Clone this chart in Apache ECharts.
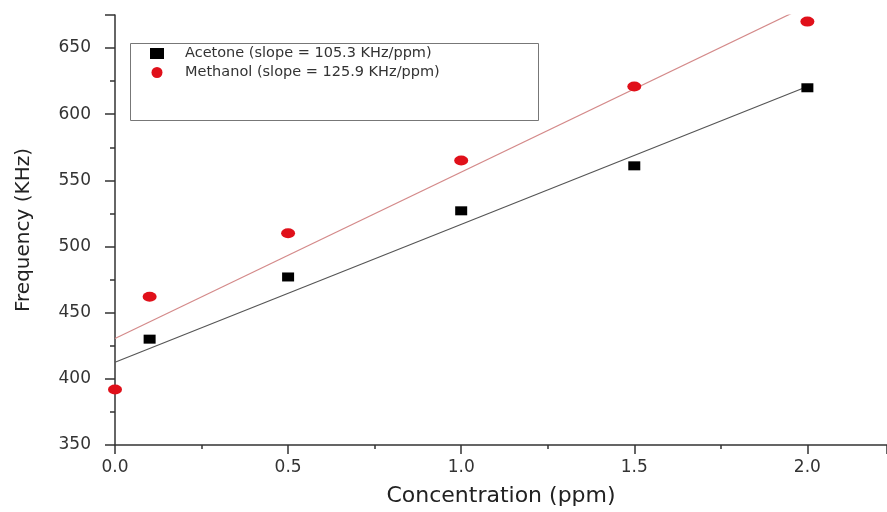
<!DOCTYPE html>
<html>
<head>
<meta charset="utf-8">
<script src="https://cdn.jsdelivr.net/npm/echarts@6/dist/echarts.min.js"></script>
<style>
  html, body { margin: 0; padding: 0; background: #fff; }
  #chart { width: 887px; height: 512px; }
</style>
</head>
<body>
<div id="chart"></div>
<script>
const acetoneX = [0.1, 0.5, 1.0, 1.5, 2.0];
const acetoneY = [430, 477, 527, 561, 620];
const methanolX = [0.0, 0.1, 0.5, 1.0, 1.5, 2.0];
const methanolY = [392, 462, 510, 565, 621, 670];

// 선형 피팅 선 끝점
const acetoneFitX = [0.0, 2.0];
const acetoneFitY = [412.5, 621];
const methanolFitX = [0.0, 2.0];
const methanolFitY = [430.5, 682];

const legendNames = ['Acetone (slope = 105.3 KHz/ppm)', 'Methanol (slope = 125.9 KHz/ppm)'];
const xTicks = [0, 0.5, 1.0, 1.5, 2.0];

const font = '"DejaVu Sans", Arial, sans-serif';

function pairs(xs, ys) {
  return xs.map((x, i) => [x, ys[i]]);
}

const chart = echarts.init(document.getElementById('chart'));

const option = {
  backgroundColor: '#fff',
  animation: false,
  grid: { left: 115, right: 0, top: 15, bottom: 66 },
  // 범례 테두리
  graphic: [{
    type: 'rect',
    left: 130,
    top: 43,
    shape: { width: 408, height: 77 },
    style: { fill: '#fff', stroke: '#777', lineWidth: 1 },
    z: 5
  }],
  legend: {
    data: [
      { name: legendNames[0], icon: 'rect' },
      { name: legendNames[1], icon: 'circle' }
    ],
    orient: 'vertical',
    left: 150,
    top: 46,
    padding: 0,
    itemGap: 4,
    itemWidth: 14,
    itemHeight: 11,
    z: 10,
    textStyle: { fontFamily: font, fontSize: 14.5, color: '#333', padding: [0, 0, 0, 16] }
  },
  xAxis: {
    type: 'value',
    min: 0,
    max: 2.23,
    interval: 0.5,
    name: 'Concentration (ppm)',
    nameLocation: 'middle',
    nameGap: 40,
    nameTextStyle: { fontFamily: font, fontSize: 22, color: '#222' },
    axisLine: { show: true, lineStyle: { color: '#333', width: 1.5 } },
    axisTick: { show: true, length: 9, lineStyle: { color: '#333', width: 1.5 } },
    minorTick: { show: true, splitNumber: 2, length: 4, lineStyle: { color: '#333', width: 1.5 } },
    splitLine: { show: false },
    axisLabel: {
      showMaxLabel: false,
      margin: 14,
      fontFamily: font, fontSize: 17, color: '#333',
      formatter: v => (xTicks.indexOf(v) >= 0 ? v.toFixed(1) : '')
    }
  },
  yAxis: {
    type: 'value',
    min: 350,
    max: 675,
    interval: 50,
    name: 'Frequency (KHz)',
    nameLocation: 'middle',
    nameGap: 81,
    nameTextStyle: { fontFamily: font, fontSize: 20, color: '#222' },
    axisLine: { show: true, lineStyle: { color: '#333', width: 1.5 } },
    axisTick: { show: true, length: 10, lineStyle: { color: '#333', width: 1.5 } },
    minorTick: { show: true, splitNumber: 2, length: 5, lineStyle: { color: '#333', width: 1.5 } },
    splitLine: { show: false },
    axisLabel: {
      showMaxLabel: false,
      margin: 24,
      fontFamily: font, fontSize: 17, color: '#333'
    }
  },
  series: [
    {
      name: 'acetoneFit',
      type: 'line',
      data: pairs(acetoneFitX, acetoneFitY),
      symbol: 'none',
      clip: true,
      lineStyle: { color: '#555', width: 1.2 },
      z: 1
    },
    {
      name: 'methanolFit',
      type: 'line',
      data: pairs(methanolFitX, methanolFitY),
      symbol: 'none',
      clip: true,
      lineStyle: { color: '#d48a8a', width: 1.2 },
      z: 1
    },
    {
      name: legendNames[0],
      type: 'scatter',
      data: pairs(acetoneX, acetoneY),
      symbol: 'rect',
      symbolSize: [12, 9],
      itemStyle: { color: '#000', opacity: 1 },
      z: 3
    },
    {
      name: legendNames[1],
      type: 'scatter',
      data: pairs(methanolX, methanolY),
      symbol: 'circle',
      symbolSize: [14, 10],
      itemStyle: { color: '#e0101a', opacity: 1 },
      z: 3
    }
  ]
};

chart.setOption(option);
</script>
</body>
</html>
